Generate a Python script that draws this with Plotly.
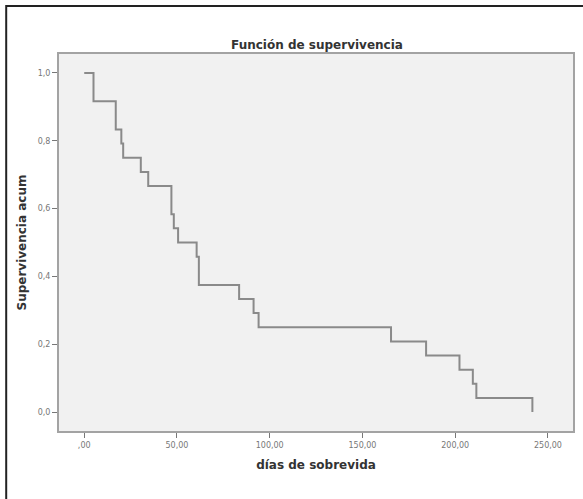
import plotly.graph_objects as go

# Kaplan-Meier step function
event_times = [0, 5, 17, 20, 21, 30.5, 34.5, 47, 48.3, 50.6, 60.6, 61.8, 83.5, 91.3, 94, 165.4, 184.3, 202.3, 209.5, 211.4, 241.6]
survival = [1.0, 0.9167, 0.8333, 0.7917, 0.75, 0.7083, 0.6667, 0.5833, 0.5417, 0.5, 0.4583, 0.375, 0.3333, 0.2917, 0.25, 0.2083, 0.1667, 0.125, 0.0833, 0.0417, 0.0]

x_ticks = [0, 50, 100, 150, 200, 250]
x_tick_labels = [",00", "50,00", "100,00", "150,00", "200,00", "250,00"]
y_ticks = [0.0, 0.2, 0.4, 0.6, 0.8, 1.0]
y_tick_labels = ["0,0", "0,2", "0,4", "0,6", "0,8", "1,0"]

fig = go.Figure()
fig.add_trace(go.Scatter(
    x=event_times, y=survival, mode="lines",
    line=dict(shape="hv", color="#8a8a8a", width=2),
    showlegend=False, hoverinfo="x+y",
))

W, H = 583, 499
ml, mr, mt, mb = 59, 8, 54, 68
pw = W - ml - mr
ph = H - mt - mb

def px_x(p):
    return (p - ml) / pw

def px_y(p):
    return (H - mb - p) / ph

font_fam = "DejaVu Sans, Open Sans, sans-serif"

fig.update_layout(
    width=W, height=H,
    margin=dict(l=ml, r=mr, t=mt, b=mb),
    paper_bgcolor="white",
    plot_bgcolor="#f1f1f1",
    title=dict(text="<b>Función de supervivencia</b>", x=(ml + pw / 2) / W, xref="container",
               y=1 - 45 / H, yref="container", yanchor="middle", xanchor="center",
               font=dict(family=font_fam, size=12, color="#333333")),
    xaxis=dict(range=[-13.6, 263.5], tickvals=x_ticks, ticktext=x_tick_labels,
               showgrid=False, zeroline=False, showline=True, linecolor="#a3a3a3", linewidth=2,
               mirror=True, ticks="outside", ticklen=5, tickwidth=1, tickcolor="#777777",
               tickfont=dict(family=font_fam, size=8, color="#777777"),
               title=dict(text="<b>días de sobrevida</b>", standoff=12,
                          font=dict(family=font_fam, size=12, color="#333333"))),
    yaxis=dict(range=[-0.056, 1.056], tickvals=y_ticks, ticktext=y_tick_labels,
               showgrid=False, zeroline=False, showline=True, linecolor="#a3a3a3", linewidth=2,
               mirror=True, ticks="outside", ticklen=5, tickwidth=1, tickcolor="#777777",
               tickfont=dict(family=font_fam, size=8, color="#777777"),
               title=dict(text="<b>Supervivencia acum</b>", standoff=8,
                          font=dict(family=font_fam, size=12, color="#333333"))),
    shapes=[dict(type="rect", xref="paper", yref="paper",
                 x0=px_x(6), x1=px_x(600), y0=px_y(520), y1=px_y(6),
                 line=dict(color="#222222", width=2), fillcolor="rgba(0,0,0,0)", layer="below")],
)

fig.write_html("out.html", config={"displayModeBar": False},
               post_script="document.body.style.margin='0';document.body.style.overflow='hidden';")
